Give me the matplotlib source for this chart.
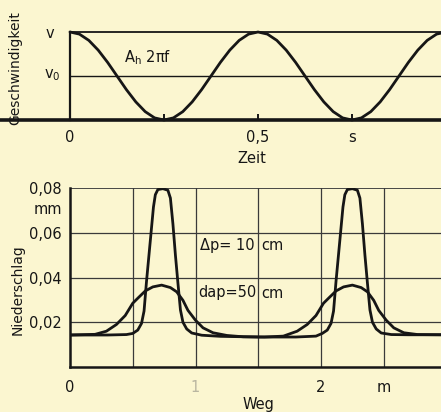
import matplotlib.pyplot as plt

# Top panel: velocity over time (one-and-a-half waves shown)
t_s = [0.000, 0.025, 0.050, 0.075, 0.100, 0.125, 0.150, 0.175, 0.200, 0.225,
       0.250, 0.275, 0.300, 0.325, 0.350, 0.375, 0.400, 0.425, 0.450, 0.475,
       0.500, 0.525, 0.550, 0.575, 0.600, 0.625, 0.650, 0.675, 0.700, 0.725,
       0.750, 0.775, 0.800, 0.825, 0.850, 0.875, 0.900, 0.925, 0.950, 0.975, 1.000]
v_rel = [1.000, 0.976, 0.905, 0.794, 0.655, 0.500, 0.345, 0.206, 0.095, 0.024,
         0.000, 0.024, 0.095, 0.206, 0.345, 0.500, 0.655, 0.794, 0.905, 0.976,
         1.000, 0.976, 0.905, 0.794, 0.655, 0.500, 0.345, 0.206, 0.095, 0.024,
         0.000, 0.024, 0.095, 0.206, 0.345, 0.500, 0.655, 0.794, 0.905, 0.976, 1.000]
v_max = 1.0
v_0 = 0.5
t_ticks = [0, 0.25, 0.5, 0.75]
t_labels = ["0", "", "0,5", "s"]

# Bottom panel: deposit (Niederschlag) along the path
x_narrow = [0.00, 0.30, 0.45, 0.50, 0.54, 0.57, 0.59, 0.61, 0.63, 0.65,
            0.665, 0.68, 0.70, 0.74, 0.78, 0.80, 0.82, 0.84, 0.86, 0.88,
            0.90, 0.93, 0.97, 1.05, 1.20, 1.50, 1.80, 1.96, 2.01, 2.05,
            2.08, 2.10, 2.12, 2.14, 2.16, 2.175, 2.19, 2.21, 2.25, 2.29,
            2.31, 2.33, 2.35, 2.37, 2.39, 2.41, 2.44, 2.48, 2.56, 2.70, 2.96]
y_narrow = [0.0143, 0.0143, 0.0145, 0.0150, 0.0165, 0.0195, 0.0250, 0.0385, 0.0505, 0.0625,
            0.0715, 0.0770, 0.0793, 0.0797, 0.0790, 0.0755, 0.0640, 0.0500, 0.0375, 0.0255,
            0.0200, 0.0170, 0.0152, 0.0142, 0.0137, 0.0134, 0.0134, 0.0138, 0.0150, 0.0165,
            0.0195, 0.0250, 0.0385, 0.0505, 0.0625, 0.0715, 0.0770, 0.0793, 0.0797, 0.0790,
            0.0755, 0.0640, 0.0500, 0.0375, 0.0255, 0.0200, 0.0170, 0.0152, 0.0145, 0.0144, 0.0144]

x_wide = [0.00, 0.20, 0.29, 0.37, 0.44, 0.50, 0.545, 0.60, 0.66, 0.73,
          0.80, 0.85, 0.90, 0.94, 1.00, 1.06, 1.14, 1.25, 1.38, 1.55,
          1.70, 1.81, 1.89, 1.96, 2.02, 2.065, 2.12, 2.18, 2.25, 2.32,
          2.37, 2.42, 2.46, 2.52, 2.58, 2.66, 2.77, 2.96]
y_wide = [0.0143, 0.0146, 0.0160, 0.0190, 0.0230, 0.0285, 0.0310, 0.0340, 0.0358, 0.0366,
          0.0355, 0.0336, 0.0298, 0.0253, 0.0209, 0.0175, 0.0153, 0.0141, 0.0135, 0.0134,
          0.0138, 0.0160, 0.0190, 0.0230, 0.0285, 0.0310, 0.0340, 0.0358, 0.0366, 0.0355,
          0.0336, 0.0298, 0.0253, 0.0209, 0.0175, 0.0153, 0.0145, 0.0144]

y_ticks = [0.02, 0.04, 0.06, 0.08]
y_labels = ["0,02", "0,04", "0,06", "0,08"]
x_ticks = [0, 1, 2, 2.5]
x_labels = ["0", "1", "2", "m"]
x_grid = [0.5, 1.0, 1.5, 2.0, 2.5]

bg = "#FBF6D0"
ink = "#161616"
W, H = 441, 412

plt.rcParams["font.family"] = "DejaVu Sans"
fig = plt.figure(figsize=(W / 100, H / 100), dpi=100)
fig.patch.set_facecolor(bg)


def box(x0, y0, x1, y1):
    # pixel box (top-left origin) -> figure fraction rect
    return [x0 / W, 1 - y1 / H, (x1 - x0) / W, (y1 - y0) / H]


def ftext(x, y, s, **kw):
    kw.setdefault("fontsize", 10.5)
    kw.setdefault("color", ink)
    kw.setdefault("ha", "center")
    kw.setdefault("va", "center")
    fig.text(x / W, 1 - y / H, s, **kw)


# ---- top panel ----
ax1 = fig.add_axes(box(70, 32, 441, 120))
ax1.set_facecolor("none")
ax1.set_xlim(0, 371 / 376)
ax1.set_ylim(0, 1)
ax1.plot(t_s, v_rel, color=ink, lw=2.0, clip_on=False, solid_capstyle="round")
ax1.axhline(v_max, color=ink, lw=1.3, clip_on=False)
ax1.axhline(v_0, color=ink, lw=1.0)
for s in ["top", "right"]:
    ax1.spines[s].set_visible(False)
ax1.spines["left"].set_linewidth(1.6)
ax1.spines["left"].set_color(ink)
ax1.spines["bottom"].set_visible(False)
ax1.plot([-70 / 371, 1], [0, 0], transform=ax1.transAxes, color=ink, lw=2.6,
         clip_on=False, solid_capstyle="butt")
ax1.set_xticks(t_ticks)
ax1.set_xticklabels(t_labels, fontsize=10.5, color=ink)
ax1.tick_params(axis="x", direction="in", length=4, width=1.4, color=ink, pad=7)
ax1.set_yticks([])

ftext(50, 33, "v", fontsize=10.5)
ftext(52, 75, "v$_0$", fontsize=10.5)
ftext(148, 58, r"A$_\mathrm{h}$ 2πf", fontsize=10.5)
ftext(15, 68, "Geschwindigkeit", rotation=90, fontsize=10)
ftext(252, 159, "Zeit")

# ---- bottom panel ----
ax2 = fig.add_axes(box(70, 188, 441, 367))
ax2.set_facecolor("none")
ax2.set_xlim(0, 371 / 125.5)
ax2.set_ylim(0, 0.08)
for yv in y_ticks:
    ax2.axhline(yv, color="#3a3a3a", lw=0.9 if yv < 0.08 else 1.3, zorder=1)
for xv in x_grid:
    ax2.axvline(xv, color="#3a3a3a", lw=0.9, zorder=1)
ax2.plot(x_narrow, y_narrow, color=ink, lw=2.0, zorder=3)
ax2.plot(x_wide, y_wide, color=ink, lw=2.0, zorder=3)
for s in ["top", "right"]:
    ax2.spines[s].set_visible(False)
for s in ["left", "bottom"]:
    ax2.spines[s].set_linewidth(1.8)
    ax2.spines[s].set_color(ink)
ax2.set_yticks(y_ticks)
ax2.set_yticklabels(y_labels, fontsize=10.5, color=ink)
ax2.set_xticks(x_ticks)
ax2.set_xticklabels(x_labels, fontsize=10.5, color=ink)
ax2.get_xticklabels()[1].set_color("#b9b6a0")
ax2.tick_params(axis="both", length=0)
ax2.tick_params(axis="y", pad=6)
ax2.tick_params(axis="x", pad=9)

ftext(62, 210, "mm", ha="right")
ftext(18, 290, "Niederschlag", rotation=90, fontsize=10)
ftext(258, 405, "Weg")
ftext(200, 246, "Δp= 10", ha="left")
ftext(261, 246, "cm", ha="left")
ftext(198, 293, "dap=50", ha="left")
ftext(261, 293, "cm", ha="left")

fig.savefig("out.png", dpi=100, facecolor=bg)
